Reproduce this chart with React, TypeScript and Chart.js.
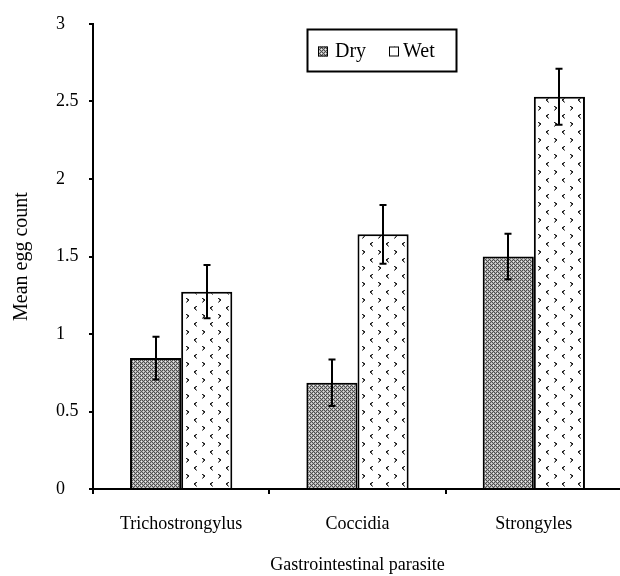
import React, { useEffect, useRef } from "react";
import { Chart, registerables } from "chart.js";

Chart.register(...registerables);

const categories = ["Trichostrongylus", "Coccidia", "Strongyles"];
const seriesLabels = ["Dry", "Wet"];
const dryValues = [0.845, 0.686, 1.5];
const wetValues = [1.273, 1.643, 2.531];
const dryErrors = [0.138, 0.15, 0.147];
const wetErrors = [0.172, 0.19, 0.181];
const yTickLabels = ["0", "0.5", "1", "1.5", "2", "2.5", "3"];

const FONT = "'Liberation Serif', 'Times New Roman', serif";

function makeDryPattern(ctx: CanvasRenderingContext2D) {
  const c = document.createElement("canvas");
  c.width = 4;
  c.height = 4;
  const g = c.getContext("2d")!;
  for (let y = 0; y < 4; y++) {
    for (let x = 0; x < 4; x++) {
      let col = (x + y) % 2 === 0 ? "#4e4e4e" : "#b0b0b0";
      if (x === 1 && y === 1) col = "#f0f0f0";
      if (x === 3 && y === 3) col = "#d8d8d8";
      g.fillStyle = col;
      g.fillRect(x, y, 1, 1);
    }
  }
  return ctx.createPattern(c, "repeat")!;
}

function makeWetPattern(ctx: CanvasRenderingContext2D) {
  const c = document.createElement("canvas");
  c.width = 16;
  c.height = 16;
  const g = c.getContext("2d")!;
  g.fillStyle = "#ffffff";
  g.fillRect(0, 0, 16, 16);
  const D = "#222222";
  const G = "#7a7a7a";
  const L = "#b8b8b8";
  const px = (x: number, y: number, col: string) => {
    g.fillStyle = col;
    g.fillRect(x, y, 1, 1);
  };
  // "<" mark
  const lt = (ox: number, oy: number) => {
    px(ox + 1, oy, G);
    px(ox + 2, oy, D);
    px(ox, oy + 1, D);
    px(ox + 1, oy + 1, D);
    px(ox, oy + 2, D);
    px(ox + 1, oy + 2, G);
    px(ox + 1, oy + 3, D);
    px(ox + 2, oy + 3, L);
    px(ox + 2, oy + 4, G);
  };
  // ">" mark
  const gt = (ox: number, oy: number) => {
    px(ox, oy, D);
    px(ox + 1, oy, G);
    px(ox + 1, oy + 1, D);
    px(ox + 2, oy + 1, D);
    px(ox + 2, oy + 2, D);
    px(ox + 1, oy + 2, G);
    px(ox + 1, oy + 3, D);
    px(ox, oy + 3, L);
    px(ox, oy + 4, G);
  };
  lt(2, 2);
  gt(10, 10);
  return ctx.createPattern(c, "repeat")!;
}

const errorBarPlugin = {
  id: "errorBars",
  afterDatasetsDraw(chart: any) {
    const ctx = chart.ctx as CanvasRenderingContext2D;
    const yScale = chart.scales.y;
    const errs = [dryErrors, wetErrors];
    chart.data.datasets.forEach((ds: any, i: number) => {
      const meta = chart.getDatasetMeta(i);
      meta.data.forEach((bar: any, j: number) => {
        const v = ds.data[j];
        const e = errs[i][j];
        const top = yScale.getPixelForValue(v + e);
        const bot = yScale.getPixelForValue(v - e);
        const x = Math.round(bar.x);
        ctx.save();
        ctx.strokeStyle = "#000";
        ctx.lineWidth = 2;
        ctx.beginPath();
        ctx.moveTo(x, top);
        ctx.lineTo(x, bot);
        ctx.moveTo(x - 3.5, top);
        ctx.lineTo(x + 3.5, top);
        ctx.moveTo(x - 3.5, bot);
        ctx.lineTo(x + 3.5, bot);
        ctx.stroke();
        ctx.restore();
      });
    });
  },
};

const boxLegendPlugin = {
  id: "boxLegend",
  afterDraw(chart: any) {
    const ctx = chart.ctx as CanvasRenderingContext2D;
    const left = 307.5;
    const top = 29.5;
    const w = 149;
    const h = 42;
    ctx.save();
    ctx.strokeStyle = "#000";
    ctx.lineWidth = 2;
    ctx.strokeRect(left, top, w, h);
    ctx.font = `20px ${FONT}`;
    ctx.textBaseline = "middle";
    ctx.fillStyle = "#000";
    const cy = top + h / 2 + 1;
    const entries = [
      { sx: 318, tx: 335 },
      { sx: 389, tx: 403 },
    ];
    chart.data.datasets.forEach((ds: any, i: number) => {
      const e = entries[i];
      ctx.fillStyle = ds.backgroundColor;
      ctx.fillRect(e.sx, cy - 5, 10, 10);
      ctx.lineWidth = 1;
      ctx.strokeStyle = "#000";
      ctx.strokeRect(e.sx + 0.5, cy - 4.5, 9, 9);
      ctx.fillStyle = "#000";
      ctx.textAlign = "left";
      ctx.fillText(ds.label, e.tx, cy);
    });
    ctx.restore();
  },
};

export default function App() {
  const ref = useRef<HTMLCanvasElement>(null);
  useEffect(() => {
    const canvas = ref.current!;
    const ctx = canvas.getContext("2d")!;
    const dryPat = makeDryPattern(ctx);
    const wetPat = makeWetPattern(ctx);
    const tickFont = { family: FONT, size: 18 };
    const chart = new Chart(ctx, {
      type: "bar",
      data: {
        labels: categories,
        datasets: [
          {
            label: seriesLabels[0],
            data: dryValues,
            backgroundColor: dryPat as any,
            borderColor: "#000",
            borderWidth: 2,
            categoryPercentage: 0.58,
            barPercentage: 1.0,
          },
          {
            label: seriesLabels[1],
            data: wetValues,
            backgroundColor: wetPat as any,
            borderColor: "#000",
            borderWidth: 2,
            categoryPercentage: 0.58,
            barPercentage: 1.0,
          },
        ],
      },
      options: {
        animation: false,
        responsive: false,
        maintainAspectRatio: false,
        layout: { padding: { top: 24, right: 18, left: 56, bottom: 0 } },
        plugins: {
          legend: { display: false },
          tooltip: { enabled: false },
        },
        scales: {
          x: {
            type: "category",
            offset: true,
            grid: {
              display: true,
              drawOnChartArea: false,
              drawTicks: true,
              tickLength: 5,
              color: "#000",
              lineWidth: 2,
              offset: true,
            },
            border: { display: true, color: "#000", width: 2 },
            ticks: { color: "#000", font: tickFont, padding: 19, maxRotation: 0 },
            title: {
              display: true,
              text: "Gastrointestinal parasite",
              color: "#000",
              font: tickFont,
              padding: { top: 0, bottom: 0 },
            },
            afterFit(scale: any) {
              scale.height = 87;
            },
          },
          y: {
            min: 0,
            max: 3,
            ticks: {
              stepSize: 0.5,
              color: "#000",
              font: tickFont,
              padding: 6,
              crossAlign: "far",
              callback: (_v: any, i: number) => yTickLabels[i],
            },
            grid: {
              display: true,
              drawOnChartArea: false,
              drawTicks: true,
              tickLength: 4,
              color: "#000",
              lineWidth: 2,
            },
            border: { display: true, color: "#000", width: 2 },
            title: {
              display: true,
              text: "Mean egg count",
              color: "#000",
              font: { family: FONT, size: 20 },
              padding: { top: -46, bottom: 0 },
            },
            afterFit(scale: any) {
              scale.width = 37;
            },
          },
        },
      },
      plugins: [errorBarPlugin, boxLegendPlugin],
    });
    return () => chart.destroy();
  }, []);

  return (
    <div
      style={{
        position: "fixed",
        left: 0,
        top: 0,
        width: 620,
        height: 576,
        overflow: "hidden",
        background: "#fff",
      }}
    >
      <canvas ref={ref} width={640} height={576} style={{ display: "block" }} />
    </div>
  );
}
